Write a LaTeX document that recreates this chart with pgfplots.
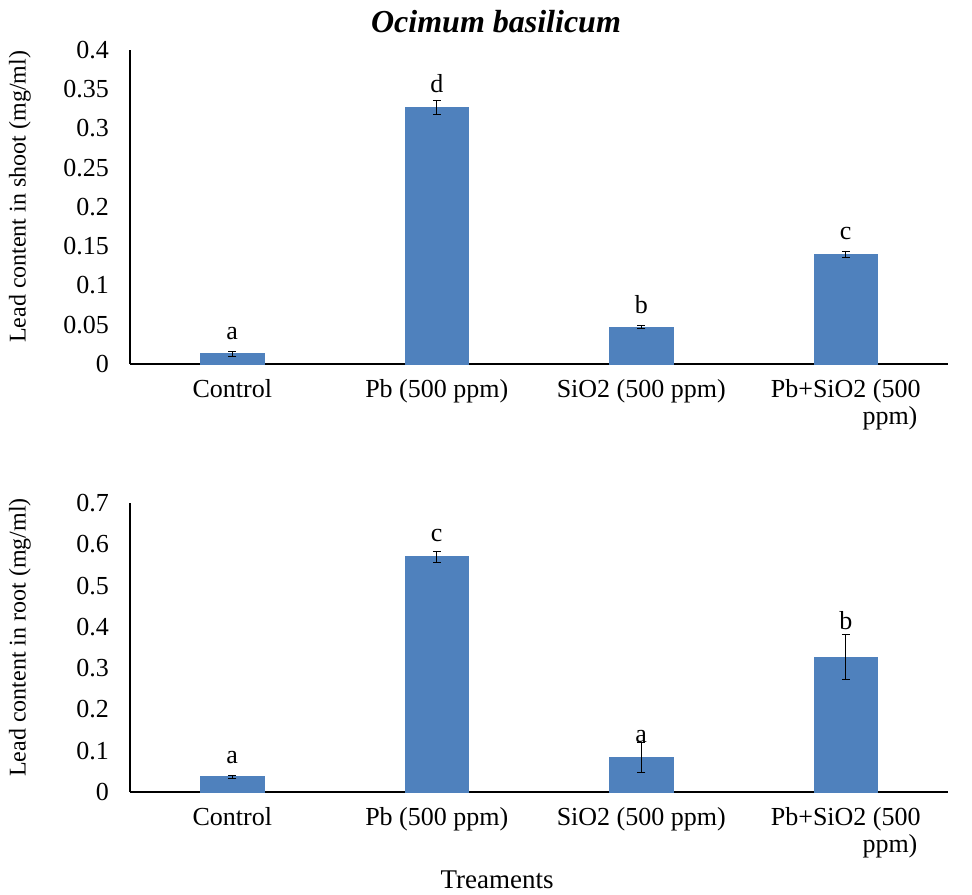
\documentclass[border=0pt]{standalone}
\usepackage{fontspec}
\setmainfont{Liberation Serif}
\usepackage{pgfplots}
\pgfplotsset{compat=1.18}
\definecolor{barblue}{RGB}{79,129,189}
\begin{document}
\begin{tikzpicture}
\path[use as bounding box] (0,0) rectangle (486pt,-447pt);
\pgfplotsset{
  myaxis/.style={
    scale only axis, width=409pt, xmin=-0.5, xmax=3.5,
    axis x line*=bottom, axis y line*=left,
    xtick={0,1,2,3},
    xticklabels={Control, Pb (500 ppm), SiO2 (500 ppm), {Pb+SiO2 (500\\\hspace*{3.4em}ppm)}},
    xticklabel style={align=center, font=\fontsize{13}{13.5}\selectfont, yshift=-4pt},
    major tick length=0pt, tick style={draw=none},
    ymin=0,
    scaled y ticks=false,
    yticklabel style={font=\fontsize{13}{14}\selectfont, xshift=-7pt, /pgf/number format/.cd, fixed, precision=2},
    /pgf/number format/assume math mode=true,
    every axis y label/.style={at={(axis description cs:-0.1345,0.5)}, rotate=90, anchor=center, xshift=5pt, font=\fontsize{12}{14}\selectfont},
    axis line style={line width=0.6pt, black},
    clip=false,
  },
  barst/.style={ybar, bar width=0.31, fill=barblue, draw=barblue,
    error bars/.cd, y dir=both, y explicit,
    error bar style={black, line width=0.4pt},
    error mark options={rotate=90, black, mark size=2pt, line width=0.4pt}},
  letters/.style={draw=none, nodes near coords, point meta=explicit symbolic,
    every node near coord/.style={anchor=south, inner sep=0pt, font=\fontsize{13}{14}\selectfont}},
}
% top panel
\begin{axis}[myaxis, at={(65pt,-25pt)}, anchor=north west, height=157pt,
  ymax=0.4, ytick={0,0.05,0.1,0.15,0.2,0.25,0.3,0.35,0.4},
  ylabel={Lead content in shoot (mg/ml)}]
\addplot[barst] coordinates {(0,0.013) +- (0,0.003) (1,0.327) +- (0,0.009) (2,0.047) +- (0,0.002) (3,0.140) +- (0,0.004)};
\addplot[letters] coordinates {(0,0.030)[a] (1,0.345)[d] (2,0.064)[b] (3,0.158)[c]};
\end{axis}
% bottom panel
\begin{axis}[myaxis, at={(65pt,-251.5pt)}, anchor=north west, height=144.5pt,
  ymax=0.7, ytick={0,0.1,0.2,0.3,0.4,0.5,0.6,0.7},
  ylabel={Lead content in root (mg/ml)}]
\addplot[barst] coordinates {(0,0.037) +- (0,0.004) (1,0.570) +- (0,0.013) (2,0.084) +- (0,0.037) (3,0.327) +- (0,0.055)};
\addplot[letters] coordinates {(0,0.068)[a] (1,0.605)[c] (2,0.118)[a] (3,0.391)[b]};
\end{axis}
\node[font=\fontsize{16}{18}\selectfont\bfseries\itshape] at (248pt,-11pt) {Ocimum basilicum};
\node[font=\fontsize{13.5}{16}\selectfont] at (248.5pt,-440pt) {Treaments};
\end{tikzpicture}
\end{document}
